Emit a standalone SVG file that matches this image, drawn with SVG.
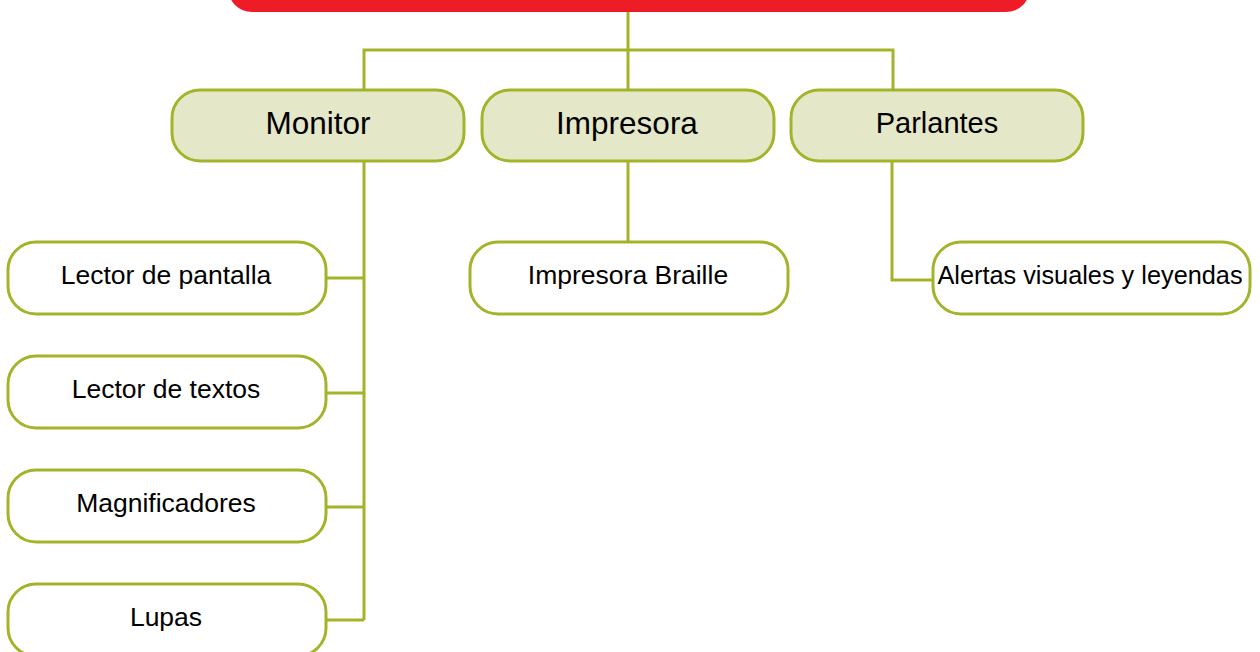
<svg xmlns="http://www.w3.org/2000/svg" width="1260" height="652" viewBox="0 0 1260 652">
<style>
.main{fill:#e4e8c8;stroke:#a4b42a;stroke-width:3}
.sub{fill:#ffffff;stroke:#a4b42a;stroke-width:3}
.conn{fill:none;stroke:#a4b42a;stroke-width:3}
text{font-family:"Liberation Sans",Arial,Helvetica,sans-serif;fill:#000;text-anchor:middle}
.t1{font-size:31.5px}
.t2{font-size:26.5px}
</style>
<rect width="1260" height="652" fill="#ffffff"/>
<g id="connectors">
<path class="conn" d="M628,12 V90 M364,90 V50 H893 V90"/>
<path class="conn" d="M364,161 V620 M326,278 H364 M326,393 H364 M326,507 H364 M326,620 H364"/>
<path class="conn" d="M628,161 V242"/>
<path class="conn" d="M892,161 V280 H933"/>
</g>
<g id="root">
<rect x="228" y="-60" width="802" height="72" rx="24" fill="#ee1c27"/>
</g>
<g id="monitor">
<rect class="main" x="172" y="90" width="292" height="71" rx="28"/>
<text class="t1" x="318" y="134">Monitor</text>
</g>
<g id="impresora">
<rect class="main" x="482" y="90" width="292" height="71" rx="28"/>
<text class="t1" x="627" y="134">Impresora</text>
</g>
<g id="parlantes">
<rect class="main" x="791" y="90" width="292" height="71" rx="28"/>
<text class="t1" x="937" y="133" style="font-size:29px">Parlantes</text>
</g>
<g id="lector-pantalla">
<rect class="sub" x="8" y="242" width="318" height="72" rx="28"/>
<text class="t2" x="166" y="284">Lector de pantalla</text>
</g>
<g id="lector-textos">
<rect class="sub" x="8" y="356" width="318" height="72" rx="28"/>
<text class="t2" x="166" y="398">Lector de textos</text>
</g>
<g id="magnificadores">
<rect class="sub" x="8" y="470" width="318" height="72" rx="28"/>
<text class="t2" x="166" y="512">Magnificadores</text>
</g>
<g id="lupas">
<rect class="sub" x="8" y="584" width="318" height="72" rx="28"/>
<text class="t2" x="166" y="626">Lupas</text>
</g>
<g id="impresora-braille">
<rect class="sub" x="470" y="242" width="318" height="72" rx="28"/>
<text class="t2" x="628" y="284">Impresora Braille</text>
</g>
<g id="alertas">
<rect class="sub" x="933" y="242" width="317" height="72" rx="28"/>
<text class="t2" x="1090" y="284" style="font-size:25.3px">Alertas visuales y leyendas</text>
</g>
</svg>
